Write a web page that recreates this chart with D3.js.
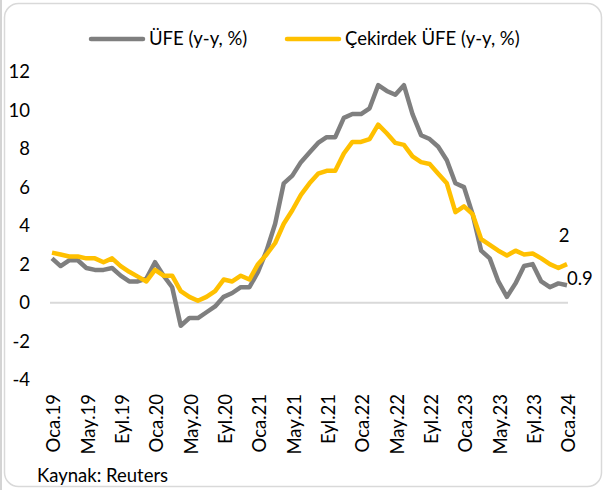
<!DOCTYPE html>
<html>
<head>
<meta charset="utf-8">
<script src="https://cdn.jsdelivr.net/npm/d3@7"></script>
<style>
  body { margin: 0; background: #fff; }
  svg { font-family: Lato, "Open Sans", sans-serif; }
</style>
</head>
<body>
<script>
// monthly, Oca.19 .. Oca.24
var months = ["Oca","Şub","Mar","Nis","May","Haz","Tem","Ağu","Eyl","Eki","Kas","Ara"];
var years = ["19","20","21","22","23","24"];

var ufe = [
  2.3, 1.9, 2.2, 2.2, 1.8, 1.7, 1.7, 1.8, 1.4, 1.1, 1.1, 1.25,
  2.1, 1.4, 0.8, -1.2, -0.8, -0.8, -0.5, -0.2, 0.3, 0.5, 0.8, 0.8,
  1.6, 2.7, 4.1, 6.2, 6.6, 7.3, 7.8, 8.3, 8.6, 8.6, 9.6, 9.8,
  9.8, 10.1, 11.3, 11.0, 10.8, 11.3, 9.8, 8.7, 8.5, 8.1, 7.4, 6.2,
  6.0, 4.6, 2.7, 2.3, 1.1, 0.3, 1.0, 1.9, 2.0, 1.1, 0.8, 1.0,
  0.9
];
var cekirdek = [
  2.6, 2.5, 2.4, 2.4, 2.3, 2.3, 2.1, 2.3, 1.9, 1.6, 1.35, 1.1,
  1.7, 1.4, 1.4, 0.6, 0.3, 0.1, 0.3, 0.6, 1.2, 1.1, 1.4, 1.2,
  2.0, 2.5, 3.1, 4.1, 4.8, 5.6, 6.2, 6.7, 6.85, 6.85, 7.75, 8.35,
  8.35, 8.5, 9.25, 8.8, 8.3, 8.2, 7.6, 7.3, 7.2, 6.7, 6.2, 4.7,
  5.0, 4.6, 3.3, 3.0, 2.7, 2.45, 2.7, 2.5, 2.55, 2.3, 2.0, 1.8,
  2.0
];
var yTicks = [-4, -2, 0, 2, 4, 6, 8, 10, 12];
var seriesNames = ["ÜFE (y-y, %)", "Çekirdek ÜFE (y-y, %)"];
var seriesColors = ["#7f7f7f", "#ffc000"];

var width = 609, height = 490;
var fs = 18.5;

var labels = [];
for (var i = 0; i < ufe.length; i++) {
  labels.push(months[i % 12] + "." + years[Math.floor(i / 12)]);
}

var svg = d3.select("body").append("svg")
    .attr("width", width)
    .attr("height", height);

// frame
svg.append("line").attr("x1", 1).attr("x2", 1).attr("y1", 0).attr("y2", height)
    .attr("stroke", "#d4d4d4").attr("stroke-width", 2);
svg.append("rect")
    .attr("x", 4.5).attr("y", 3.5).attr("width", 597).attr("height", 483)
    .attr("rx", 14).attr("fill", "none")
    .attr("stroke", "#d9d9d9").attr("stroke-width", 1.5);

var x = d3.scaleLinear().domain([0, ufe.length - 1]).range([52, 567]);
var y = d3.scaleLinear().domain([-4, 12]).range([379.6, 71.7]);

// y tick labels
svg.append("g").selectAll("text").data(yTicks)
  .enter().append("text")
    .attr("x", 30)
    .attr("y", function(d){ return y(d); })
    .attr("dy", "0.35em")
    .attr("text-anchor", "end")
    .attr("font-size", fs)
    .attr("fill", "#000")
    .text(function(d){ return d; });

// zero line
svg.append("line")
    .attr("x1", 50).attr("x2", 568)
    .attr("y1", y(0)).attr("y2", y(0))
    .attr("stroke", "#d9d9d9").attr("stroke-width", 2);

// x labels every 4 months, rotated
var tickIdx = d3.range(0, ufe.length, 4);
svg.append("g").selectAll("text").data(tickIdx)
  .enter().append("text")
    .attr("transform", function(i){ return "translate(" + (x(i) + 2) + ",394) rotate(-90)"; })
    .attr("dy", "0.35em")
    .attr("text-anchor", "end")
    .attr("font-size", fs)
    .attr("fill", "#000")
    .text(function(i){ return labels[i]; });

var line = d3.line()
    .x(function(d, i){ return x(i); })
    .y(function(d){ return y(d); });

[ufe, cekirdek].forEach(function(s, k){
  svg.append("path")
      .datum(s)
      .attr("d", line)
      .attr("fill", "none")
      .attr("stroke", seriesColors[k])
      .attr("stroke-width", 4.5)
      .attr("stroke-linejoin", "round");
});

// end labels
var last = ufe.length - 1;
svg.append("text").attr("x", x(last) - 3).attr("y", y(cekirdek[last]) - 29)
    .attr("dy", "0.35em").attr("text-anchor", "middle").attr("font-size", fs)
    .text(cekirdek[last]);
svg.append("text").attr("x", x(last)).attr("y", y(ufe[last]) - 7)
    .attr("dy", "0.35em").attr("font-size", fs)
    .text(ufe[last]);

// legend
var legend = svg.append("g");
var legX = [91, 287];
seriesNames.forEach(function(n, k){
  legend.append("line")
      .attr("x1", legX[k]).attr("x2", legX[k] + 52)
      .attr("y1", 39).attr("y2", 39)
      .attr("stroke", seriesColors[k]).attr("stroke-width", 4.5)
      .attr("stroke-linecap", "round");
  legend.append("text")
      .attr("x", legX[k] + 58).attr("y", 39)
      .attr("dy", "0.35em").attr("font-size", fs)
      .text(n);
});

svg.append("text")
    .attr("x", 37).attr("y", 476)
    .attr("dy", "0.35em").attr("font-size", fs)
    .text("Kaynak: Reuters");
</script>
</body>
</html>
